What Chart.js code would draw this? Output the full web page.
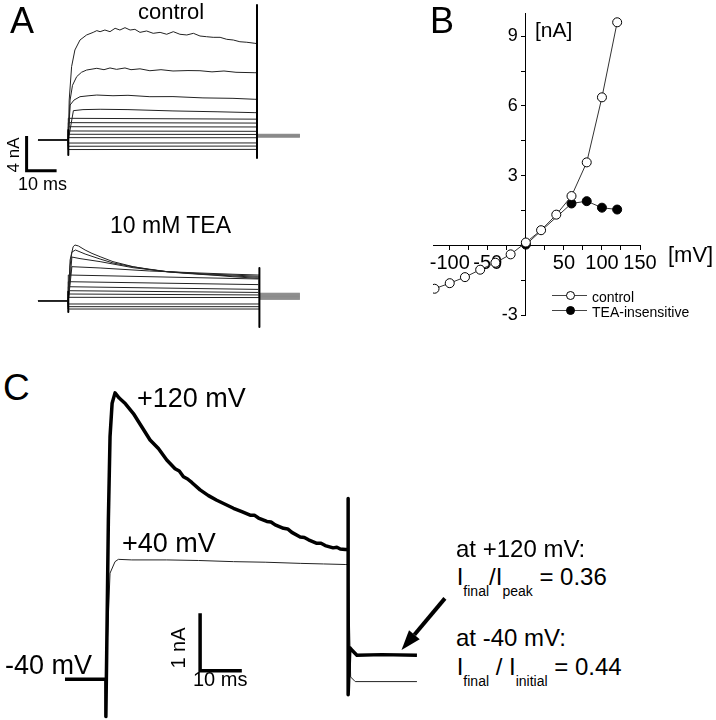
<!DOCTYPE html>
<html>
<head>
<meta charset="utf-8">
<script src="https://cdn.jsdelivr.net/npm/chart.js@4.4.1/dist/chart.umd.min.js"></script>
<style>
  html, body { margin: 0; padding: 0; background: #fff; }
  body { width: 716px; height: 720px; position: relative; overflow: hidden;
         font-family: "Liberation Sans", Arial, Helvetica, sans-serif; color: #000; }
  canvas { position: absolute; }
  .t { position: absolute; white-space: nowrap; line-height: 1; }
  .rot { transform: translate(-50%, -50%) rotate(-90deg); }
  .sub { font-size: 14px; position: relative; top: 11px; }
  .legline { position: absolute; height: 1px; background: #444; }
  .legdot { position: absolute; width: 9px; height: 9px; box-sizing: border-box;
            border: 1px solid #000; border-radius: 50%; }
</style>
</head>
<body>
<canvas id="ctrlChart" width="290" height="175" style="left:20px;top:0px"></canvas>
<canvas id="teaChart" width="290" height="95" style="left:20px;top:235px"></canvas>
<canvas id="ivChart" width="296" height="330" style="left:420px;top:0px"></canvas>
<canvas id="stepChart" width="400" height="355" style="left:55px;top:365px"></canvas>

<div class="t" style="left:10px;top:2.5px;font-size:36px">A</div>
<div class="t" style="left:138px;top:1.4px;font-size:22px">control</div>
<div class="t" style="left:110px;top:213.5px;font-size:23px">10 mM TEA</div>
<div class="t rot" style="left:12.5px;top:154.5px;font-size:17px">4 nA</div>
<div class="t" style="left:18px;top:174.8px;font-size:18px">10 ms</div>

<div class="t" style="left:430px;top:2.5px;font-size:36px">B</div>
<div class="t" style="left:535px;top:19.2px;font-size:21px">[nA]</div>
<div class="t" style="left:668px;top:244.4px;font-size:22px">[mV]</div>
<div class="legline" style="left:552px;top:295px;width:35px"></div>
<div class="legdot" style="left:566px;top:291px;background:#fff"></div>
<div class="t" style="left:592px;top:289.9px;font-size:14px">control</div>
<div class="legline" style="left:552px;top:310px;width:35px"></div>
<div class="legdot" style="left:566px;top:306px;background:#000"></div>
<div class="t" style="left:592px;top:305.1px;font-size:14px">TEA-insensitive</div>

<div class="t" style="left:3px;top:368.7px;font-size:37px">C</div>
<div class="t" style="left:137px;top:385.1px;font-size:27px">+120 mV</div>
<div class="t" style="left:122px;top:530.1px;font-size:27px">+40 mV</div>
<div class="t" style="left:5px;top:652.1px;font-size:27px">-40 mV</div>
<div class="t rot" style="left:177.5px;top:647.5px;font-size:20px">1 nA</div>
<div class="t" style="left:193px;top:669px;font-size:20px">10 ms</div>
<div class="t" style="left:456px;top:536.7px;font-size:24px">at +120 mV:</div>
<div class="t" style="left:456.7px;top:564.7px;font-size:24px">I<span class="sub">final</span>/I<span class="sub">peak</span> = 0.36</div>
<div class="t" style="left:456px;top:626.4px;font-size:24px">at -40 mV:</div>
<div class="t" style="left:456.7px;top:654.7px;font-size:24px">I<span class="sub">final</span> / I<span class="sub">initial</span> = 0.44</div>

<script>
// ---------- A: control sweeps (time in ms, current in nA) ----------
const ctrlStepT = [10.1, 73, 87.3]; // step on, step off, end of sweep
const ctrlSweep1T = [0, 10.1, 10.4, 11.2, 12.3, 14, 16.2, 18.4, 19.6, 20.7, 22.3, 24, 25.7, 27.3, 29, 30.7, 32.3, 34, 36.2, 38.4, 40.7, 42.9, 45.1, 47.3, 49.6, 51.8, 54, 56.2, 58.4, 60.7, 62.9, 65.1, 67.3, 69.6, 72.3, 73];
const ctrlSweep1I = [0, 0, 4.6, 8.45, 10.37, 11.52, 12.1, 12.4, 12.6, 12.48, 12.67, 12.48, 12.87, 12.67, 12.94, 12.67, 12.75, 12.4, 12.56, 12.29, 12.4, 12.18, 12.48, 12.18, 12.1, 12.29, 11.98, 11.9, 11.83, 11.83, 11.6, 11.52, 11.32, 11.26, 11.14, 11.1];
const ctrlSweep2T = [0, 10.1, 10.7, 11.5, 12.9, 14.5, 16.2, 19.6, 22, 24, 26.2, 29, 31, 34, 37.3, 41, 45, 50, 54, 58, 62, 66, 72.3, 73];
const ctrlSweep2I = [0, 0, 4.6, 6.3, 7.3, 7.8, 8.06, 8.26, 8.1, 8.3, 8.14, 8.3, 8.1, 8.2, 7.98, 8.1, 7.95, 8.0, 7.98, 7.85, 7.95, 7.8, 7.75, 7.75];
const ctrlSweep3T = [0, 10.1, 10.7, 12, 14, 17, 19.6, 25, 30, 37.3, 45, 55, 65, 72.3, 73];
const ctrlSweep3I = [0, 0, 4.03, 4.6, 4.99, 5.1, 5.18, 5.1, 5.15, 4.99, 5.0, 4.85, 4.8, 4.69, 4.69];
const ctrlSweep4T = [0, 10.1, 11.8, 15, 20.7, 30, 45, 60, 72.3, 73];
const ctrlSweep4I = [0, 0, 3.38, 3.5, 3.54, 3.5, 3.35, 3.25, 3.15, 3.15];
const ctrlFlatOn = [2.5, 2.0, 1.53, 1.04, 0.66, 0.27, -0.35, -0.72, -1.1];
const ctrlFlatOff = [2.4, 1.95, 1.5, 1.0, 0.64, 0.26, -0.34, -0.7, -1.08];
const ctrlTail = [0.66, 0.6, 0.57, 0.55, 0.5, 0.48, 0.46, 0.44, 0.42, 0.4, 0.38, 0.36, 0.34];
const ctrlSpikeOn = [1.15, -1.73];
const ctrlSpikeOff = [15.55, -2.07];
const barAT = [-3.8, -3.8, 6.2];   // 10 ms
const barAI = [0.46, -3.54, -3.54]; // 4 nA

// ---------- A: 10 mM TEA sweeps ----------
const teaStepT = [10.1, 73.8, 87.3];
const teaSweep1T = [0, 10.1, 10.7, 11.7, 12.3, 13.5, 15.7, 18, 20.7, 25, 31.7, 37, 42.9, 48, 54, 60, 65, 70, 73.3, 73.8];
const teaSweep1I = [0, 0, 4.7, 6.2, 6.42, 6.3, 5.84, 5.45, 5.07, 4.5, 3.92, 3.6, 3.34, 3.18, 3.04, 2.9, 2.76, 2.65, 2.58, 2.58];
const teaSweep2T = [0, 10.1, 10.7, 11.3, 12.5, 15.7, 20.7, 25, 31.7, 42.9, 54, 65, 73.3, 73.8];
const teaSweep2I = [0, 0, 4.0, 5.6, 5.84, 5.38, 4.8, 4.35, 3.9, 3.35, 3.07, 2.85, 2.7, 2.7];
const teaSweep3T = [0, 10.1, 11.3, 14, 20.7, 31.7, 42.9, 54, 65, 73.3, 73.8];
const teaSweep3I = [0, 0, 5.03, 4.85, 4.5, 3.8, 3.35, 3.11, 2.95, 2.82, 2.82];
const teaSweep4T = [0, 10.1, 11.3, 20.7, 37.3, 54, 65, 73.3, 73.8];
const teaSweep4I = [0, 0, 3.92, 3.77, 3.42, 3.19, 3.05, 2.96, 2.96];
const teaFlatOn = [2.96, 2.19, 1.61, 1.15, 0.77, 0.39, -0.38, -0.69, -0.96];
const teaFlatOff = [2.5, 1.85, 1.3, 0.95, 0.66, 0.36, -0.38, -0.69, -0.96];
const teaTail = [0.86, 0.8, 0.74, 0.69, 0.61, 0.55, 0.5, 0.44, 0.4, 0.33, 0.28, 0.21, 0.16];
const teaSpikeOn = [1.04, -1.3];
const teaSpikeOff = [3.77, -3.03];

// ---------- B: I-V relation ----------
const ivVolt = [-120, -100, -80, -60, -40, -20, 0, 20, 40, 60, 80, 100, 120];
const ivControl = [-1.87, -1.63, -1.37, -1.05, -0.75, -0.39, 0.12, 0.65, 1.32, 2.12, 3.57, 6.37, 9.6];
const ivTeaVolt = [0, 60, 80, 100, 120];
const ivTea = [0.03, 1.80, 1.90, 1.62, 1.54];
const ivXTicks = [-100, -75, -50, -25, 0, 25, 50, 75, 100, 125, 150];
const ivYTicks = [-3, -1.5, 0, 1.5, 3, 4.5, 6, 7.5, 9];
const ivYLabels = [-3, 3, 6, 9];

// ---------- C: +120 and +40 mV sweeps ----------
const c120T = [0, 9.8, 9.8, 10.0, 10.4, 10.8, 11.3, 12.0, 13, 14.5, 16.4, 18.4, 20.4, 22.4, 24.4, 26.4, 27.4, 28.4, 29.4, 30.4, 32.4, 34.4, 36.4, 38.4, 40.4, 42.4, 44.4, 45.4, 46.4, 48.4, 49.4, 50.4, 52.4, 53.4, 54.4, 56.4, 57.4, 58.4, 60.4, 61.4, 62.4, 64.3, 65.2, 66, 67.2, 67.9, 67.9, 67.9, 68.3, 68.9, 70, 76, 84.4];
const c120I = [0, 0, -0.65, 0.46, 2.78, 4.23, 4.81, 4.99, 4.9, 4.8, 4.63, 4.4, 4.17, 4.02, 3.82, 3.67, 3.63, 3.53, 3.49, 3.43, 3.3, 3.2, 3.12, 3.05, 2.98, 2.92, 2.86, 2.86, 2.81, 2.75, 2.74, 2.69, 2.63, 2.62, 2.56, 2.48, 2.47, 2.43, 2.37, 2.37, 2.33, 2.29, 2.3, 2.27, 2.26, 2.26, 3.15, -0.27, 0.55, 0.5, 0.42, 0.43, 0.42];
const c40T = [0, 9.8, 10.8, 12.0, 12.8, 16, 24.4, 32, 40.4, 48, 56.4, 62, 67.2, 67.9, 68.5, 69.6, 84.4];
const c40I = [0, 0, 1.85, 2.05, 2.09, 2.08, 2.08, 2.07, 2.05, 2.04, 2.02, 2.01, 2.0, 2.0, 0.04, -0.04, -0.04];
const barCT = [32.4, 32.4, 42.4];  // 10 ms
const barCI = [1.15, 0.15, 0.15];  // 1 nA
const arrowFrom = [91.1, 1.41];
const arrowTo = [80.7, 0.51];

const toXY = (t, v) => t.map((x, i) => ({ x: x, y: v[i] }));

function trace(t, v, width, color, tailFrom) {
  const ds = {
    data: toXY(t, v), showLine: true, pointRadius: 0,
    borderColor: color || "#222", borderWidth: width || 1,
    borderJoinStyle: "round", fill: false
  };
  if (tailFrom !== undefined) {
    // tail currents after the step are drawn lighter, as in the scan
    ds.segment = { borderColor: c => (c.p0.parsed.x >= tailFrom ? "#8a8a8a" : undefined) };
  }
  return ds;
}

function traceOptions(xr, yr) {
  return {
    responsive: false, animation: false, events: [],
    layout: { padding: 0 },
    plugins: { legend: { display: false }, tooltip: { enabled: false } },
    scales: {
      x: { type: "linear", display: false, min: xr[0], max: xr[1] },
      y: { type: "linear", display: false, min: yr[0], max: yr[1] }
    }
  };
}

function family(curves, flatOn, flatOff, tails, step) {
  const sets = [];
  curves.forEach((c, i) => {
    const t = c[0].concat([step[1], step[2]]);
    const v = c[1].concat([tails[i], tails[i]]);
    sets.push(trace(t, v, 1, "#222", step[1]));
  });
  flatOn.forEach((on, i) => {
    const k = curves.length + i;
    sets.push(trace([0, step[0], step[0], step[1], step[1], step[2]],
                    [0, 0, on, flatOff[i], tails[k], tails[k]], 1, "#222", step[1]));
  });
  return sets;
}

// panel A control
const ctrlSets = family(
  [[ctrlSweep1T, ctrlSweep1I], [ctrlSweep2T, ctrlSweep2I], [ctrlSweep3T, ctrlSweep3I], [ctrlSweep4T, ctrlSweep4I]],
  ctrlFlatOn, ctrlFlatOff, ctrlTail, ctrlStepT);
ctrlSets.unshift(trace([ctrlStepT[0], ctrlStepT[0]], ctrlSpikeOn, 2, "#000"));
ctrlSets.unshift(trace([ctrlStepT[1], ctrlStepT[1]], ctrlSpikeOff, 2, "#000"));
ctrlSets.push(Object.assign(trace(barAT, barAI, 3, "#000"), { borderJoinStyle: "miter" }));

new Chart(document.getElementById("ctrlChart"), {
  type: "scatter",
  data: { datasets: ctrlSets },
  options: traceOptions([-6, 90.667], [-4.032, 16.129])
});

// panel A TEA
const teaSets = family(
  [[teaSweep1T, teaSweep1I], [teaSweep2T, teaSweep2I], [teaSweep3T, teaSweep3I], [teaSweep4T, teaSweep4I]],
  teaFlatOn, teaFlatOff, teaTail, teaStepT);
teaSets.unshift(trace([teaStepT[0], teaStepT[0]], teaSpikeOn, 2, "#000"));
teaSets.unshift(trace([teaStepT[1], teaStepT[1]], teaSpikeOff, 2, "#000"));

new Chart(document.getElementById("teaChart"), {
  type: "scatter",
  data: { datasets: teaSets },
  options: traceOptions([-6, 90.667], [-3.376, 7.569])
});

// panel B: y labels sit left of the crossing axis
const yLabelPlugin = {
  id: "yLabels",
  afterDraw(chart) {
    const { ctx, scales } = chart;
    const xAxis = scales.x.getPixelForValue(0) - 8;
    ctx.save();
    ctx.font = '18px "Liberation Sans", Arial, sans-serif';
    ctx.fillStyle = "#000";
    ctx.textAlign = "right";
    ctx.textBaseline = "middle";
    ivYLabels.forEach(v => ctx.fillText(String(v), xAxis, scales.y.getPixelForValue(v)));
    ctx.restore();
  }
};

new Chart(document.getElementById("ivChart"), {
  type: "scatter",
  data: {
    datasets: [
      {
        label: "control", data: toXY(ivVolt, ivControl), showLine: true,
        borderColor: "#333", borderWidth: 1,
        pointRadius: 4.5, pointBorderWidth: 1, pointBorderColor: "#000", pointBackgroundColor: "#fff"
      },
      {
        label: "TEA-insensitive", data: toXY(ivTeaVolt, ivTea), showLine: true,
        borderColor: "#333", borderWidth: 1,
        pointRadius: 4.5, pointBorderWidth: 1, pointBorderColor: "#000", pointBackgroundColor: "#000"
      }
    ]
  },
  options: {
    responsive: false, animation: false, events: [],
    layout: { padding: { left: 13, right: 76, top: 13, bottom: 15 } },
    plugins: { legend: { display: false }, tooltip: { enabled: false } },
    scales: {
      x: {
        type: "linear", min: -122, max: 150, position: { y: 0 },
        afterBuildTicks: s => { s.ticks = ivXTicks.map(v => ({ value: v })); },
        grid: { drawOnChartArea: false, tickLength: 4, color: "#000" },
        border: { color: "#000", width: 1 },
        ticks: {
          autoSkip: false, maxRotation: 0, padding: 2, color: "#000",
          font: { family: "Liberation Sans", size: 20 },
          callback: v => (v % 50 === 0 && v !== 0) ? String(v) : ""
        }
      },
      y: {
        type: "linear", min: -3, max: 10, position: { x: 0 },
        afterBuildTicks: s => { s.ticks = ivYTicks.map(v => ({ value: v })); },
        grid: { drawOnChartArea: false, tickLength: 4, color: "#000" },
        border: { color: "#000", width: 1 },
        ticks: { display: false }
      }
    }
  },
  plugins: [yLabelPlugin]
});

// panel C
const arrowPlugin = {
  id: "arrow",
  afterDatasetsDraw(chart) {
    const { ctx, scales } = chart;
    const x0 = scales.x.getPixelForValue(arrowFrom[0]), y0 = scales.y.getPixelForValue(arrowFrom[1]);
    const x1 = scales.x.getPixelForValue(arrowTo[0]), y1 = scales.y.getPixelForValue(arrowTo[1]);
    const a = Math.atan2(y1 - y0, x1 - x0);
    const len = 20, half = 7;
    const bx = x1 - len * Math.cos(a), by = y1 - len * Math.sin(a);
    ctx.save();
    ctx.strokeStyle = "#000";
    ctx.fillStyle = "#000";
    ctx.lineWidth = 4;
    ctx.beginPath();
    ctx.moveTo(x0, y0);
    ctx.lineTo(bx, by);
    ctx.stroke();
    ctx.beginPath();
    ctx.moveTo(x1, y1);
    ctx.lineTo(bx + half * Math.sin(a), by - half * Math.cos(a));
    ctx.lineTo(bx - half * Math.sin(a), by + half * Math.cos(a));
    ctx.closePath();
    ctx.fill();
    ctx.restore();
  }
};

new Chart(document.getElementById("stepChart"), {
  type: "scatter",
  data: {
    datasets: [
      trace(c120T, c120I, 3.5, "#000"),
      trace(c40T, c40I, 1, "#222"),
      Object.assign(trace(barCT, barCI, 3.5, "#000"), { borderJoinStyle: "miter" })
    ]
  },
  options: traceOptions([-2.398, 93.525], [-0.709, 5.476]),
  plugins: [arrowPlugin]
});
</script>
</body>
</html>
